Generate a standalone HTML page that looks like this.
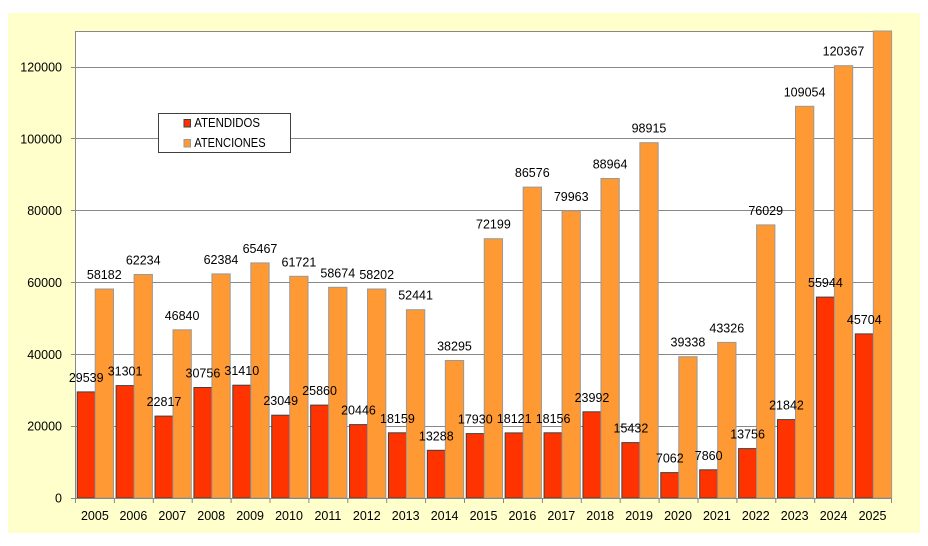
<!DOCTYPE html>
<html>
<head>
<meta charset="utf-8">
<style>
  html,body{margin:0;padding:0;background:#fff;}
  svg{display:block;}
  text{font-family:"Liberation Sans",sans-serif;font-size:12.5px;fill:#000;}
</style>
</head>
<body>
<svg width="928" height="546" viewBox="0 0 928 546" xmlns="http://www.w3.org/2000/svg">
  <rect x="0" y="0" width="928" height="546" fill="#ffffff"/>
  <rect x="8" y="13" width="912" height="520" fill="#FFFFCC"/>
  <rect x="75" y="31" width="817" height="467" fill="#ffffff"/>

  <!-- gridlines -->
  <g stroke="#888" stroke-width="1">
    <line x1="75" y1="426.5" x2="892" y2="426.5"/>
    <line x1="75" y1="354.5" x2="892" y2="354.5"/>
    <line x1="75" y1="282.5" x2="892" y2="282.5"/>
    <line x1="75" y1="210.5" x2="892" y2="210.5"/>
    <line x1="75" y1="138.5" x2="892" y2="138.5"/>
    <line x1="75" y1="67.5" x2="892" y2="67.5"/>
    <line x1="75" y1="31.5" x2="892" y2="31.5"/>
    <line x1="891.5" y1="31" x2="891.5" y2="498"/>
  </g>

  <!-- bars -->
  <g stroke-width="1">
    <g transform="translate(75,0)"><rect x="2.2" y="391.9" width="18" height="106.1" fill="#FF3300" stroke="#404040"/><rect x="20.2" y="289.0" width="18.3" height="209.0" fill="#FF9933" stroke="#999"/></g>
    <g transform="translate(113.905,0)"><rect x="2.2" y="385.6" width="18" height="112.4" fill="#FF3300" stroke="#404040"/><rect x="20.2" y="274.5" width="18.3" height="223.5" fill="#FF9933" stroke="#999"/></g>
    <g transform="translate(152.81,0)"><rect x="2.2" y="416.1" width="18" height="81.9" fill="#FF3300" stroke="#404040"/><rect x="20.2" y="329.8" width="18.3" height="168.2" fill="#FF9933" stroke="#999"/></g>
    <g transform="translate(191.715,0)"><rect x="2.2" y="387.5" width="18" height="110.5" fill="#FF3300" stroke="#404040"/><rect x="20.2" y="273.9" width="18.3" height="224.1" fill="#FF9933" stroke="#999"/></g>
    <g transform="translate(230.62,0)"><rect x="2.2" y="385.2" width="18" height="112.8" fill="#FF3300" stroke="#404040"/><rect x="20.2" y="262.9" width="18.3" height="235.1" fill="#FF9933" stroke="#999"/></g>
    <g transform="translate(269.525,0)"><rect x="2.2" y="415.2" width="18" height="82.8" fill="#FF3300" stroke="#404040"/><rect x="20.2" y="276.3" width="18.3" height="221.7" fill="#FF9933" stroke="#999"/></g>
    <g transform="translate(308.43,0)"><rect x="2.2" y="405.1" width="18" height="92.9" fill="#FF3300" stroke="#404040"/><rect x="20.2" y="287.3" width="18.3" height="210.7" fill="#FF9933" stroke="#999"/></g>
    <g transform="translate(347.335,0)"><rect x="2.2" y="424.6" width="18" height="73.4" fill="#FF3300" stroke="#404040"/><rect x="20.2" y="289.0" width="18.3" height="209.0" fill="#FF9933" stroke="#999"/></g>
    <g transform="translate(386.24,0)"><rect x="2.2" y="432.8" width="18" height="65.2" fill="#FF3300" stroke="#404040"/><rect x="20.2" y="309.7" width="18.3" height="188.3" fill="#FF9933" stroke="#999"/></g>
    <g transform="translate(425.145,0)"><rect x="2.2" y="450.3" width="18" height="47.7" fill="#FF3300" stroke="#404040"/><rect x="20.2" y="360.5" width="18.3" height="137.5" fill="#FF9933" stroke="#999"/></g>
    <g transform="translate(464.05,0)"><rect x="2.2" y="433.6" width="18" height="64.4" fill="#FF3300" stroke="#404040"/><rect x="20.2" y="238.7" width="18.3" height="259.3" fill="#FF9933" stroke="#999"/></g>
    <g transform="translate(502.955,0)"><rect x="2.2" y="432.9" width="18" height="65.1" fill="#FF3300" stroke="#404040"/><rect x="20.2" y="187.1" width="18.3" height="310.9" fill="#FF9933" stroke="#999"/></g>
    <g transform="translate(541.86,0)"><rect x="2.2" y="432.8" width="18" height="65.2" fill="#FF3300" stroke="#404040"/><rect x="20.2" y="210.8" width="18.3" height="287.2" fill="#FF9933" stroke="#999"/></g>
    <g transform="translate(580.765,0)"><rect x="2.2" y="411.8" width="18" height="86.2" fill="#FF3300" stroke="#404040"/><rect x="20.2" y="178.5" width="18.3" height="319.5" fill="#FF9933" stroke="#999"/></g>
    <g transform="translate(619.67,0)"><rect x="2.2" y="442.6" width="18" height="55.4" fill="#FF3300" stroke="#404040"/><rect x="20.2" y="142.7" width="18.3" height="355.3" fill="#FF9933" stroke="#999"/></g>
    <g transform="translate(658.575,0)"><rect x="2.2" y="472.6" width="18" height="25.4" fill="#FF3300" stroke="#404040"/><rect x="20.2" y="356.7" width="18.3" height="141.3" fill="#FF9933" stroke="#999"/></g>
    <g transform="translate(697.48,0)"><rect x="2.2" y="469.8" width="18" height="28.2" fill="#FF3300" stroke="#404040"/><rect x="20.2" y="342.4" width="18.3" height="155.6" fill="#FF9933" stroke="#999"/></g>
    <g transform="translate(736.385,0)"><rect x="2.2" y="448.6" width="18" height="49.4" fill="#FF3300" stroke="#404040"/><rect x="20.2" y="224.9" width="18.3" height="273.1" fill="#FF9933" stroke="#999"/></g>
    <g transform="translate(775.29,0)"><rect x="2.2" y="419.6" width="18" height="78.4" fill="#FF3300" stroke="#404040"/><rect x="20.2" y="106.3" width="18.3" height="391.7" fill="#FF9933" stroke="#999"/></g>
    <g transform="translate(814.195,0)"><rect x="2.2" y="297.1" width="18" height="200.9" fill="#FF3300" stroke="#404040"/><rect x="20.2" y="65.7" width="18.3" height="432.3" fill="#FF9933" stroke="#999"/></g>
    <g transform="translate(853.1,0)"><rect x="2.2" y="333.9" width="18" height="164.1" fill="#FF3300" stroke="#404040"/><rect x="20.2" y="31" width="18.3" height="467" fill="#FF9933" stroke="#999"/></g>
  </g>

  <!-- axes -->
  <g stroke="#888" stroke-width="1">
    <line x1="75.5" y1="31" x2="75.5" y2="498"/>
    <line x1="75" y1="498.5" x2="892" y2="498.5"/>
    <!-- y ticks -->
    <line x1="71" y1="498.5" x2="75" y2="498.5"/>
    <line x1="71" y1="426.5" x2="75" y2="426.5"/>
    <line x1="71" y1="354.5" x2="75" y2="354.5"/>
    <line x1="71" y1="282.5" x2="75" y2="282.5"/>
    <line x1="71" y1="210.5" x2="75" y2="210.5"/>
    <line x1="71" y1="138.5" x2="75" y2="138.5"/>
    <line x1="71" y1="67.5" x2="75" y2="67.5"/>
    <!-- x ticks -->
    <line x1="75.5" y1="498" x2="75.5" y2="503"/>
    <line x1="114.4" y1="498" x2="114.4" y2="503"/>
    <line x1="153.3" y1="498" x2="153.3" y2="503"/>
    <line x1="192.2" y1="498" x2="192.2" y2="503"/>
    <line x1="231.1" y1="498" x2="231.1" y2="503"/>
    <line x1="270.0" y1="498" x2="270.0" y2="503"/>
    <line x1="308.9" y1="498" x2="308.9" y2="503"/>
    <line x1="347.8" y1="498" x2="347.8" y2="503"/>
    <line x1="386.7" y1="498" x2="386.7" y2="503"/>
    <line x1="425.6" y1="498" x2="425.6" y2="503"/>
    <line x1="464.5" y1="498" x2="464.5" y2="503"/>
    <line x1="503.5" y1="498" x2="503.5" y2="503"/>
    <line x1="542.4" y1="498" x2="542.4" y2="503"/>
    <line x1="581.3" y1="498" x2="581.3" y2="503"/>
    <line x1="620.2" y1="498" x2="620.2" y2="503"/>
    <line x1="659.1" y1="498" x2="659.1" y2="503"/>
    <line x1="698.0" y1="498" x2="698.0" y2="503"/>
    <line x1="736.9" y1="498" x2="736.9" y2="503"/>
    <line x1="775.8" y1="498" x2="775.8" y2="503"/>
    <line x1="814.7" y1="498" x2="814.7" y2="503"/>
    <line x1="853.6" y1="498" x2="853.6" y2="503"/>
    <line x1="891.5" y1="498" x2="891.5" y2="503"/>
  </g>

  <!-- y labels -->
  <g text-anchor="end">
    <text x="62" y="502.5">0</text>
    <text x="62" y="430.7">20000</text>
    <text x="62" y="358.8">40000</text>
    <text x="62" y="287">60000</text>
    <text x="62" y="215.2">80000</text>
    <text x="62" y="143.3">100000</text>
    <text x="62" y="71.5">120000</text>
  </g>

  <!-- year labels -->
  <g text-anchor="middle">
    <text x="94.9" y="520">2005</text>
    <text x="133.4" y="520">2006</text>
    <text x="172.3" y="520">2007</text>
    <text x="211.2" y="520">2008</text>
    <text x="250.1" y="520">2009</text>
    <text x="289.0" y="520">2010</text>
    <text x="327.9" y="520">2011</text>
    <text x="366.8" y="520">2012</text>
    <text x="405.7" y="520">2013</text>
    <text x="444.6" y="520">2014</text>
    <text x="483.5" y="520">2015</text>
    <text x="522.4" y="520">2016</text>
    <text x="561.3" y="520">2017</text>
    <text x="600.2" y="520">2018</text>
    <text x="639.1" y="520">2019</text>
    <text x="678.0" y="520">2020</text>
    <text x="716.9" y="520">2021</text>
    <text x="755.8" y="520">2022</text>
    <text x="794.7" y="520">2023</text>
    <text x="833.6" y="520">2024</text>
    <text x="872.5" y="520">2025</text>
  </g>

  <!-- data labels -->
  <g text-anchor="middle">
    <text x="86.2" y="381.9">29539</text>
    <text x="125.1" y="375.6">31301</text>
    <text x="164.0" y="406.1">22817</text>
    <text x="202.9" y="377.5">30756</text>
    <text x="241.8" y="375.2">31410</text>
    <text x="280.7" y="405.2">23049</text>
    <text x="319.6" y="395.1">25860</text>
    <text x="358.5" y="414.6">20446</text>
    <text x="397.4" y="422.8">18159</text>
    <text x="436.3" y="440.3">13288</text>
    <text x="475.3" y="423.6">17930</text>
    <text x="514.2" y="422.9">18121</text>
    <text x="553.1" y="422.8">18156</text>
    <text x="592.0" y="401.8">23992</text>
    <text x="630.9" y="432.6">15432</text>
    <text x="669.8" y="462.6">7062</text>
    <text x="708.7" y="459.8">7860</text>
    <text x="747.6" y="438.6">13756</text>
    <text x="786.5" y="409.6">21842</text>
    <text x="825.4" y="287.1">55944</text>
    <text x="864.3" y="323.9">45704</text>

    <text x="104.3" y="279.0">58182</text>
    <text x="143.2" y="264.5">62234</text>
    <text x="182.1" y="319.8">46840</text>
    <text x="221.0" y="263.9">62384</text>
    <text x="260.0" y="252.9">65467</text>
    <text x="298.9" y="266.3">61721</text>
    <text x="337.8" y="277.3">58674</text>
    <text x="376.7" y="279.0">58202</text>
    <text x="415.6" y="299.7">52441</text>
    <text x="454.5" y="350.5">38295</text>
    <text x="493.4" y="228.7">72199</text>
    <text x="532.3" y="177.1">86576</text>
    <text x="571.2" y="200.8">79963</text>
    <text x="610.1" y="168.5">88964</text>
    <text x="649.0" y="132.7">98915</text>
    <text x="687.9" y="346.7">39338</text>
    <text x="726.8" y="332.4">43326</text>
    <text x="765.7" y="214.9">76029</text>
    <text x="804.6" y="96.3">109054</text>
    <text x="843.5" y="55.7">120367</text>
  </g>

  <!-- legend -->
  <rect x="158.5" y="113.5" width="132" height="39" fill="#ffffff" stroke="#404040" stroke-width="1"/>
  <rect x="184" y="119.5" width="6.5" height="7.5" fill="#FF3300" stroke="#404040" stroke-width="1"/>
  <rect x="184" y="139.5" width="6.5" height="7.5" fill="#FF9933" stroke="#999" stroke-width="1"/>
  <text x="194.3" y="127" textLength="65.7" lengthAdjust="spacingAndGlyphs">ATENDIDOS</text>
  <text x="194.3" y="147" textLength="71.3" lengthAdjust="spacingAndGlyphs">ATENCIONES</text>
</svg>
</body>
</html>
